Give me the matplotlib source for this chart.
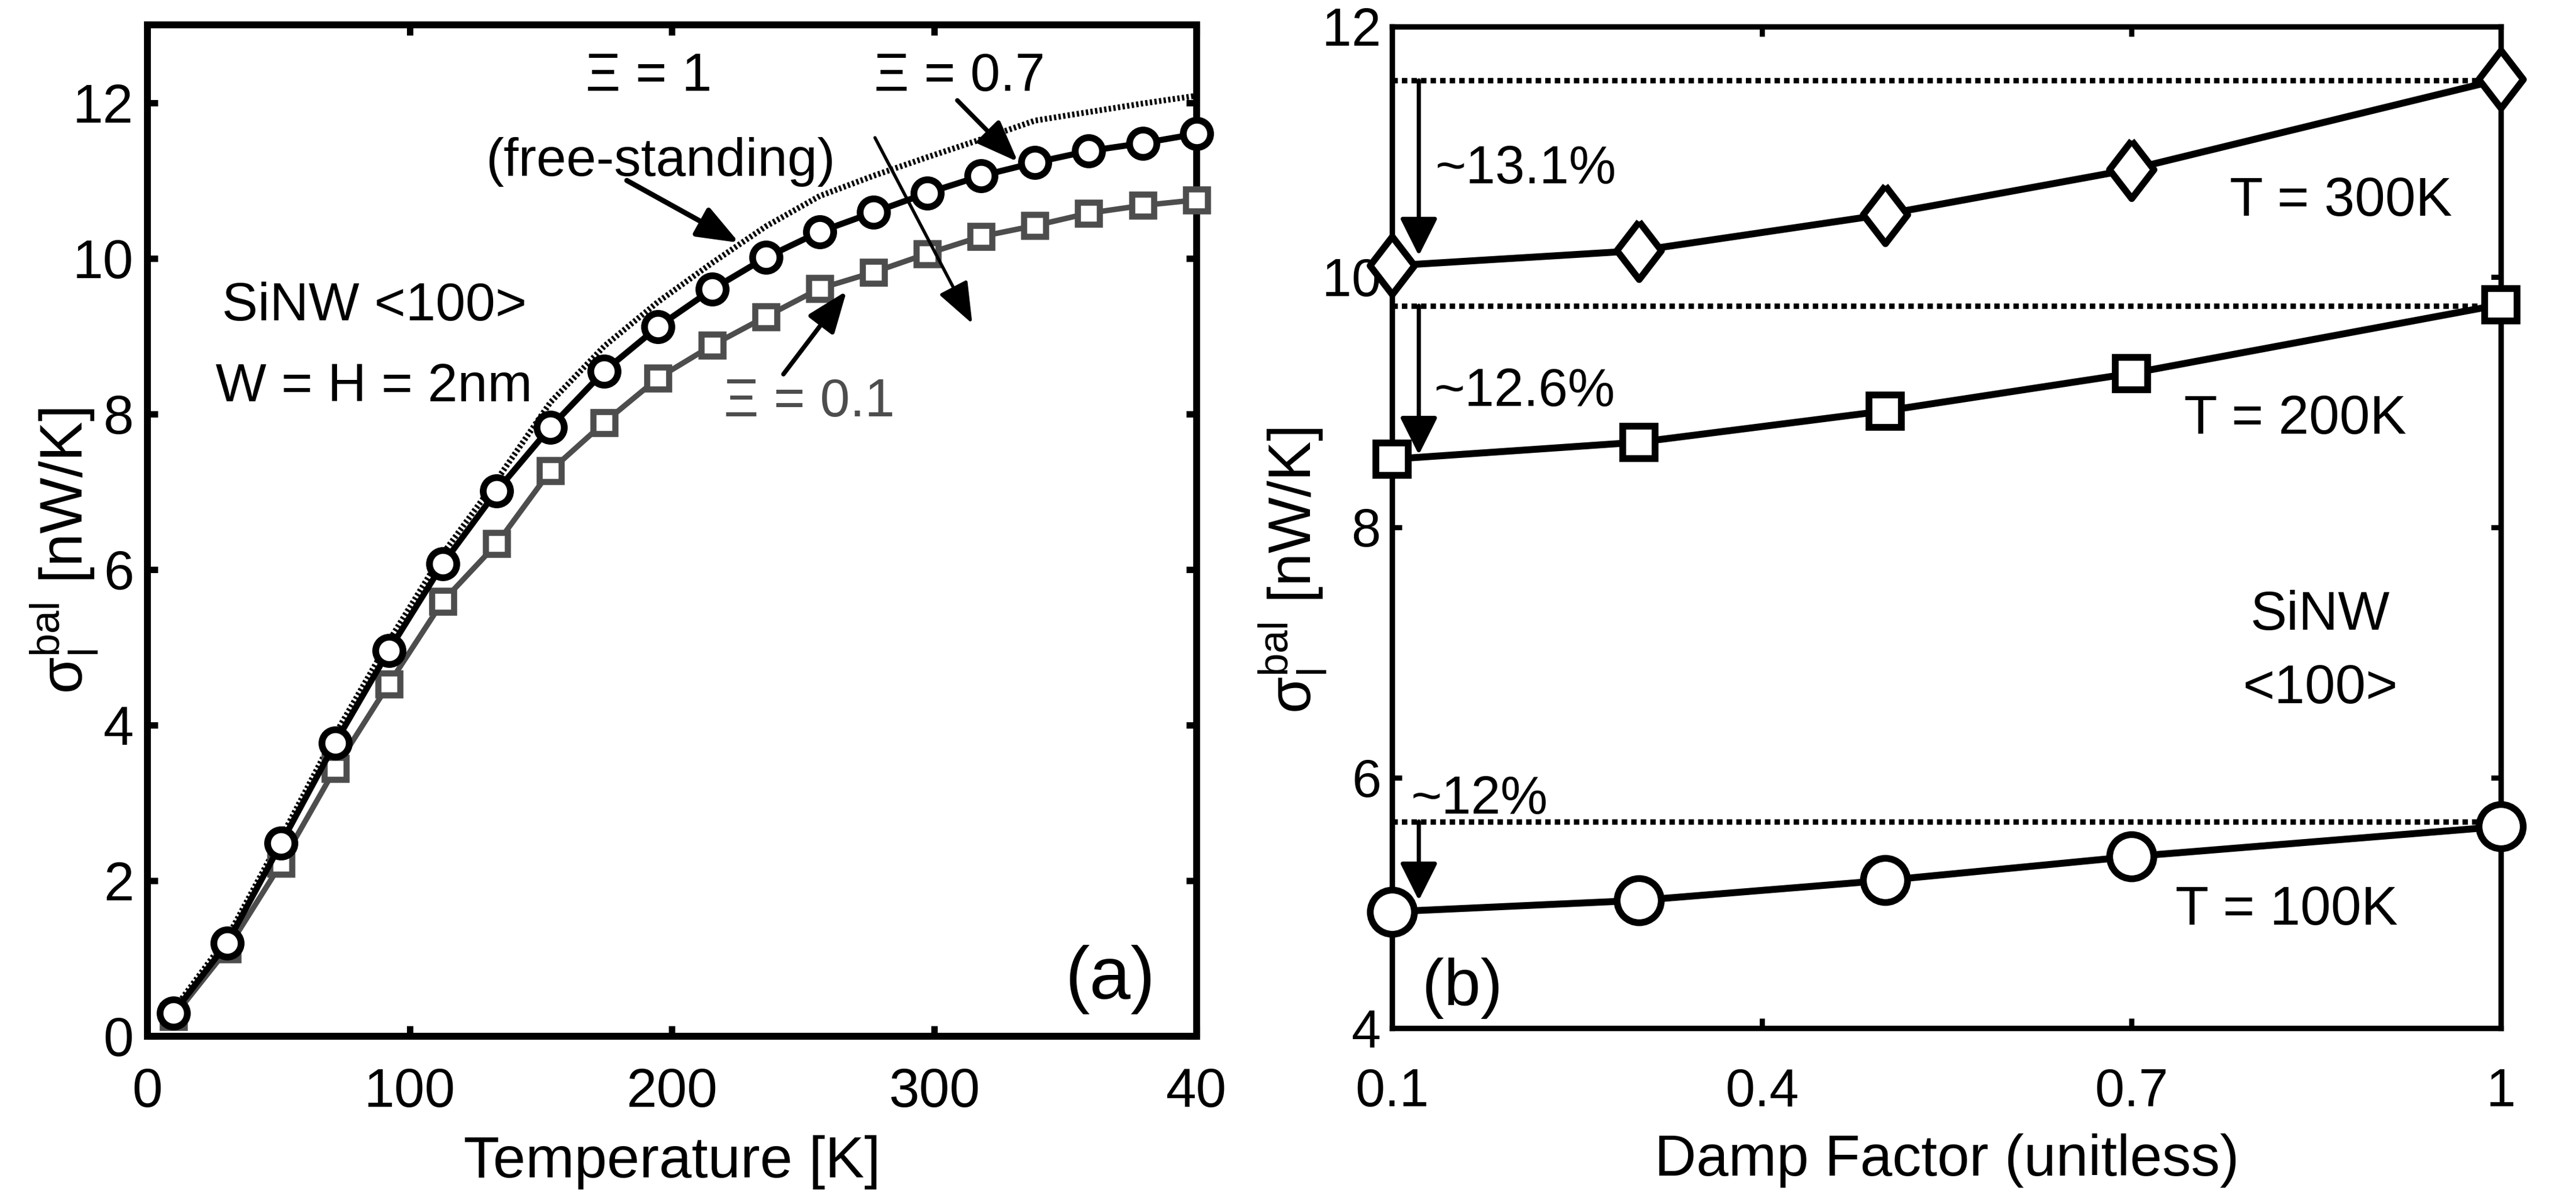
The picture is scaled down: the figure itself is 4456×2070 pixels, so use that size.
import matplotlib
matplotlib.use("Agg")
import matplotlib.pyplot as plt
from matplotlib import font_manager

# panel (a): ballistic conductance vs temperature (SiNW <100>, W = H = 2nm)
temperature = [10, 30.5, 51, 71.6, 92.1, 112.6, 133.2, 153.7, 174.2, 194.7,
               215.3, 235.8, 256.3, 276.8, 297.4, 317.9, 338.4, 358.9, 379.5, 400]
sigma_free = [0.34, 1.27, 2.55, 3.88, 5.08, 6.20, 7.15, 8.15, 8.87, 9.44,
              9.94, 10.41, 10.80, 11.06, 11.30, 11.53, 11.77, 11.88, 11.99, 12.09]
sigma_xi07 = [0.30, 1.20, 2.48, 3.77, 4.96, 6.07, 7.01, 7.83, 8.55, 9.12,
              9.60, 10.01, 10.34, 10.59, 10.84, 11.06, 11.23, 11.38, 11.48, 11.60]
sigma_xi01 = [0.25, 1.12, 2.22, 3.44, 4.53, 5.59, 6.33, 7.27, 7.89, 8.46,
              8.88, 9.25, 9.61, 9.82, 10.06, 10.28, 10.42, 10.58, 10.68, 10.75]
temp_ticks = [0, 100, 200, 300, 400]
temp_ticklabels = ['0', '100', '200', '300', '40']  # "400" is cut off in the original

# panel (b): conductance vs damp factor at three temperatures
damp = [0.1, 0.3, 0.5, 0.7, 1.0]
sigma_300k = [10.09, 10.21, 10.50, 10.86, 11.58]
sigma_200k = [8.545, 8.68, 8.93, 9.23, 9.78]
sigma_100k = [4.93, 5.02, 5.18, 5.37, 5.61]
free_levels = [11.57, 9.77, 5.65]
drop_labels = ['~13.1%', '~12.6%', '~12%']
damp_ticks = [0.1, 0.4, 0.7, 1.0]
damp_ticklabels = ['0.1', '0.4', '0.7', '1']

available = {f.name for f in font_manager.fontManager.ttflist}
narrow = 'Liberation Sans Narrow' if 'Liberation Sans Narrow' in available else 'Liberation Sans'
fs_a = 36 if narrow != 'Liberation Sans' else 33.5
fs_xlab = 38 if narrow != 'Liberation Sans' else 36.5

plt.rcParams['font.family'] = ['Liberation Sans', 'DejaVu Sans']
plt.rcParams['mathtext.fontset'] = 'custom'
plt.rcParams['mathtext.rm'] = 'Liberation Sans'
plt.rcParams['mathtext.it'] = 'Liberation Sans:italic'
plt.rcParams['mathtext.bf'] = 'Liberation Sans:bold'

gray = '#4d4d4d'
ylab = r'σ$_\mathrm{l}^\mathrm{bal}$ [nW/K]'

fig = plt.figure(figsize=(22.28, 10.35), dpi=200)
ax1 = fig.add_axes([0.0572, 0.1343, 0.4073, 0.8449])
ax2 = fig.add_axes([0.5405, 0.1411, 0.4304, 0.8367])


def arrow(lw, hl, hw):
    return dict(arrowstyle=f'-|>,head_length={hl},head_width={hw}', mutation_scale=1,
                lw=lw, color='black', shrinkA=0, shrinkB=0)


# ---- (a)
ax1.plot(temperature, sigma_free, color='black', lw=3.6, ls=(0, (0.4, 0.4)), zorder=2)
ax1.plot(temperature, sigma_xi01, color=gray, lw=3.4, marker='s', ms=13.5, mew=3.8,
         mfc='white', mec=gray, zorder=3, clip_on=False)
ax1.plot(temperature, sigma_xi07, color='black', lw=3.8, marker='o', ms=17, mew=4.2,
         mfc='white', mec='black', zorder=4, clip_on=False)

ax1.set_xlim(0, 400)
ax1.set_ylim(0, 13)
ax1.set_xticks(temp_ticks, temp_ticklabels)
ax1.set_yticks(range(0, 13, 2))
ax1.tick_params(direction='in', top=True, right=True, length=6.5, width=4,
                labelsize=34, labelfontfamily=narrow)
ax1.tick_params(axis='x', pad=19)
ax1.tick_params(axis='y', pad=8.5)
for s in ax1.spines.values():
    s.set_linewidth(4.3)

ax1.set_xlabel('Temperature [K]', fontsize=fs_xlab, family=narrow)
ax1.xaxis.set_label_coords(0.5, -0.0978)
ax1.set_ylabel(ylab, fontsize=37)
ax1.yaxis.set_label_coords(-0.0457, 0.48)

ax1.text(191.2, 12.15, 'Ξ = 1', fontsize=fs_a, family=narrow, ha='center', va='baseline')
ax1.text(309.6, 12.15, 'Ξ = 0.7', fontsize=fs_a, family=narrow, ha='center', va='baseline')
ax1.text(195.6, 11.06, '(free-standing)', fontsize=fs_a, family=narrow, ha='center', va='baseline')
ax1.text(86.6, 9.20, 'SiNW <100>', fontsize=fs_a, family=narrow, ha='center', va='baseline')
ax1.text(86.5, 8.16, 'W = H = 2nm', fontsize=fs_a, family=narrow, ha='center', va='baseline')
ax1.text(252.4, 7.97, 'Ξ = 0.1', fontsize=fs_a, family=narrow, color=gray, ha='center', va='baseline')
ax1.text(366.9, 0.485, '(a)', fontsize=46, ha='center', va='baseline')

ax1.annotate('', xy=(225.6, 10.2), xytext=(182.8, 11.0), arrowprops=arrow(3.2, 22, 8.5))
ax1.annotate('', xy=(331.9, 11.24), xytext=(308.8, 12.03), arrowprops=arrow(2.8, 22, 8.5))
ax1.annotate('', xy=(314.5, 9.16), xytext=(277.4, 11.55), arrowprops=arrow(2.0, 22, 8.5))
ax1.annotate('', xy=(266.6, 9.58), xytext=(242.5, 8.51), arrowprops=arrow(2.8, 22, 8.5))

# ---- (b)
diamond = [(0, 1), (0.77, 0), (0, -1), (-0.77, 0), (0, 1)]
for lvl in free_levels:
    ax2.plot([damp[0], damp[-1]], [lvl, lvl], color='black', lw=3.4,
             ls=(0, (1, 0.75)), zorder=2, clip_on=False)
ax2.plot(damp, sigma_300k, color='black', lw=4.3, marker=diamond, ms=36, mew=4.2,
         mfc='white', mec='black', zorder=3, clip_on=False)
ax2.plot(damp, sigma_200k, color='black', lw=4.3, marker='s', ms=20.5, mew=4.2,
         mfc='white', mec='black', zorder=3, clip_on=False)
ax2.plot(damp, sigma_100k, color='black', lw=4.3, marker='o', ms=27.5, mew=4.2,
         mfc='white', mec='black', zorder=3, clip_on=False)

ax2.set_xlim(0.1, 1.0)
ax2.set_ylim(4, 12)
ax2.set_xticks(damp_ticks, damp_ticklabels)
ax2.set_yticks(range(4, 13, 2))
ax2.tick_params(direction='in', top=True, right=True, length=6, width=3.2,
                labelsize=33)
ax2.tick_params(axis='x', pad=24.5)
ax2.tick_params(axis='y', pad=7)
for s in ax2.spines.values():
    s.set_linewidth(3.4)

ax2.set_xlabel('Damp Factor (unitless)', fontsize=36)
ax2.xaxis.set_label_coords(0.5, -0.105)
ax2.set_ylabel(ylab, fontsize=37)
ax2.yaxis.set_label_coords(-0.058, 0.457)

drop_tips = [10.17, 8.58, 5.02]
drop_text_pos = [(0.135, 10.75), (0.134, 8.97), (0.1152, 5.714)]
for lvl, tip, lab, (tx, ty) in zip(free_levels, drop_tips, drop_labels, drop_text_pos):
    ax2.annotate('', xy=(0.1215, tip), xytext=(0.1215, lvl), arrowprops=arrow(2.6, 20, 10))
    ax2.text(tx, ty, lab, fontsize=33, ha='left', va='baseline')

ax2.text(0.870, 10.49, 'T = 300K', fontsize=34, ha='center', va='baseline')
ax2.text(0.833, 8.75, 'T = 200K', fontsize=34, ha='center', va='baseline')
ax2.text(0.826, 4.827, 'T = 100K', fontsize=34, ha='center', va='baseline')
ax2.text(0.853, 7.183, 'SiNW', fontsize=34, ha='center', va='baseline')
ax2.text(0.853, 6.594, '<100>', fontsize=34, ha='center', va='baseline')
ax2.text(0.157, 4.185, '(b)', fontsize=41, ha='center', va='baseline')

fig.savefig('out.png', dpi=200)
